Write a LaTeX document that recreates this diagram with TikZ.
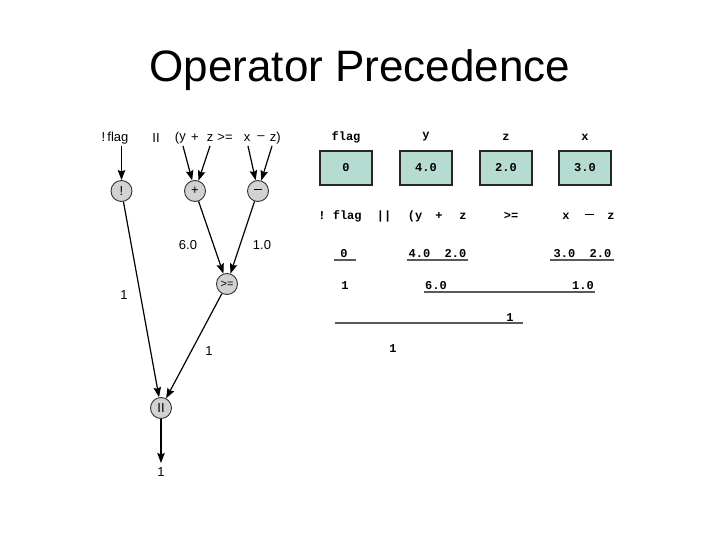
\documentclass[tikz,border=0pt]{standalone}
\usepackage{fontspec}
\setmainfont{Liberation Sans}
\newfontfamily\cour{Liberation Mono}
\usetikzlibrary{arrows.meta}
\definecolor{boxfill}{RGB}{182,220,210}
\definecolor{opfill}{RGB}{210,210,210}
\tikzset{
  tok/.style={inner sep=0pt, font=\fontsize{13}{15}\selectfont},
  op/.style={circle, draw=black!80, fill=opfill, line width=0.9pt, minimum size=21pt, inner sep=0pt, font=\fontsize{13}{15}\selectfont},
  arr/.style={line width=1.2pt, -{Stealth[length=10pt,width=7.5pt,inset=1.5pt]}},
  lbl/.style={inner sep=0pt, font=\fontsize{13}{15}\selectfont},
  mono/.style={inner sep=0pt, font=\cour\bfseries\fontsize{12}{14}\selectfont},
  valbox/.style={draw=black!85, line width=1.4pt, fill=boxfill, minimum width=52pt, minimum height=34pt, inner sep=0pt, font=\cour\bfseries\fontsize{12}{14}\selectfont},
  uline/.style={draw=black!65, line width=1.2pt}
}
\begin{document}
\begin{tikzpicture}[x=1pt,y=-1pt]
\useasboundingbox (0,0) rectangle (720,540);
% title
\node[inner sep=0pt, font=\fontsize{44}{50}\selectfont] (title) at (360,70) {Operator Precedence};

% left tree tokens
\node[tok] (tflag) at (115,138) {!\,flag};
\node[tok] (tor) at (156,138) {II};
\node[tok] (tlp) at (177,138) {(};
\node[tok] (ty) at (182.5,138) {y};
\node[tok] (tplus) at (195,138) {+};
\node[tok] (tz1) at (210,138) {z};
\node[tok] (tge) at (225,138) {>=};
\node[tok] (tx) at (247,138) {x};
\node[tok] (tminus) at (261,138) {--};
\node[tok] (tz2) at (273,138) {z};
\node[tok] (trp) at (278.5,138) {)};

% operator circles
\node[op] (cnot) at (121.5,191) {!};
\node[op] (cplus) at (195,191) {+};
\node[op] (cminus) at (258,191) {\rule[0.25em]{0.6em}{0.9pt}};
\node[op] (cge) at (227,284) {\fontsize{11}{13}\selectfont >=};
\node[op] (cor) at (161,408) {II};
\coordinate (res) at (161,463);

% arrows
\draw[arr] (121.5,146) -- (cnot);
\draw[arr] (183,146) -- (cplus);
\draw[arr] (210,146) -- (cplus);
\draw[arr] (248,146) -- (cminus);
\draw[arr] (272,146) -- (cminus);
\draw[arr] (cplus) -- (cge);
\draw[arr] (cminus) -- (cge);
\draw[arr] (cnot) -- (cor);
\draw[arr] (cge) -- (cor);
\draw[arr] (cor) -- (res);

% edge labels
\node[lbl] (l60) at (188,245) {6.0};
\node[lbl] (l10) at (262,245) {1.0};
\node[lbl] (l1a) at (124,295) {1};
\node[lbl] (l1b) at (209,351) {1};
\node[lbl] (l1c) at (161,472) {1};

% right side: variables
\node[mono] (nflag) at (346,137) {flag};
\node[mono] (ny) at (426,137) {y};
\node[mono] (nz) at (506,137) {z};
\node[mono] (nx) at (585,137) {x};
\node[valbox] (bflag) at (346,168) {0};
\node[valbox] (by) at (426,168) {4.0};
\node[valbox] (bz) at (506,168) {2.0};
\node[valbox] (bx) at (585,168) {3.0};

% expression row
\node[mono] (eflag) at (340,216) {!\hspace{0.6em}flag};
\node[mono] (eor) at (384,216) {||};
\node[mono] (ey) at (415,216) {(y};
\node[mono] (eplus) at (439,216) {+};
\node[mono] (ez1) at (463,216) {z};
\node[mono] (ege) at (511,216) {>=};
\node[mono] (ex) at (566,216) {x};
\node[mono] (eminus) at (589,216) {\rule[0.28em]{0.75em}{1.2pt}};
\node[mono] (ez2) at (611,216) {z};

% evaluation rows
\node[mono] (v0) at (344,254) {0};
\node[mono] (v42) at (437.5,254) {4.0\hspace{1.2em}2.0};
\node[mono] (v32) at (582.5,254) {3.0\hspace{1.2em}2.0};
\draw[uline] (334,260) -- (356,260);
\draw[uline] (407,260) -- (468,260);
\draw[uline] (550,260) -- (614,260);

\node[mono] (r1) at (345,286) {1};
\node[mono] (r60) at (436,286) {6.0};
\node[mono] (r10) at (583,286) {1.0};
\draw[uline] (424,292) -- (595,292);

\node[mono] (s1) at (510,318) {1};
\draw[uline] (335,323) -- (523,323);

\node[mono] (f1) at (393,349) {1};
\end{tikzpicture}
\end{document}
